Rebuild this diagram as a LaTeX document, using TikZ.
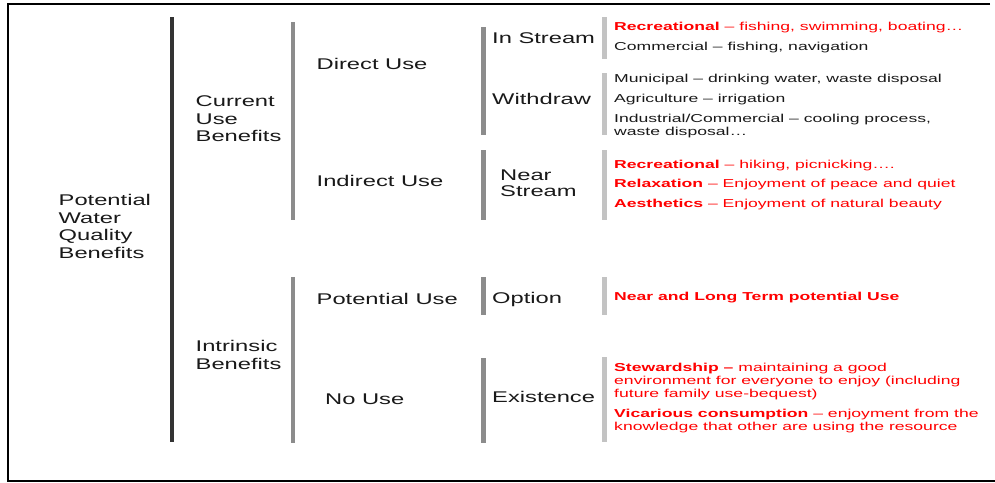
\documentclass[tikz,border=0pt]{standalone}
\usepackage{fontspec}
\setmainfont{Liberation Sans}[FakeStretch=1.53]
\definecolor{txtred}{RGB}{255,0,0}
\definecolor{txtblack}{RGB}{25,25,25}
\definecolor{barA}{RGB}{51,51,51}
\definecolor{barB}{RGB}{140,140,140}
\definecolor{barC}{RGB}{195,195,195}
\newcommand{\stk}[1]{\begin{tabular}[t]{@{}l@{}}#1\end{tabular}}
\begin{document}
\begin{tikzpicture}[x=1pt,y=-1pt,
  big/.style={anchor=base west, inner sep=0pt, font=\fontsize{15.5}{17.5}\selectfont, text=txtblack},
  bigtight/.style={big, font=\fontsize{15.5}{16.7}\selectfont},
  small/.style={anchor=base west, inner sep=0pt, font=\fontsize{11.5}{13}\selectfont, text=txtblack},
  redsmall/.style={small, text=txtred},
  barone/.style={line width=4pt, draw=barA},
  bartwo/.style={line width=4.5pt, draw=barB},
  barthree/.style={line width=5pt, draw=barB},
  barfour/.style={line width=5pt, draw=barC},
  frameline/.style={line width=2pt, draw=black}]
\useasboundingbox (0,0) rectangle (995,482);
% frame
\draw[frameline] (990,4.3) -- (8.3,4.3) -- (8.3,481) -- (995,481);
% bars
\draw[barone] (172,17) -- (172,442);
\draw[bartwo] (293,22) -- (293,220);
\draw[bartwo] (293,277) -- (293,443);
\draw[barthree] (483,27) -- (483,135);
\draw[barthree] (483,150) -- (483,220);
\draw[barthree] (483,277) -- (483,315);
\draw[barthree] (483,358) -- (483,443);
\draw[barfour] (604.2,17) -- (604.2,59);
\draw[barfour] (604.2,73) -- (604.2,135);
\draw[barfour] (604.2,150) -- (604.2,220);
\draw[barfour] (604.2,277) -- (604.2,315);
\draw[barfour] (604.2,357) -- (604.2,442);
% level 0
\node[big] (pwqb) at (58.5,205.5) {\stk{Potential\\Water\\Quality\\Benefits}};
% level 1
\node[big] (cub) at (195.5,106.7) {\stk{Current\\Use\\Benefits}};
\node[big] (ib) at (195.5,351.7) {\stk{Intrinsic\\Benefits}};
% level 2
\node[big] (du) at (316.5,69) {Direct Use};
\node[big] (iu) at (316.5,186) {Indirect Use};
\node[big] (pu) at (316.5,304.3) {Potential Use};
\node[big] (nu) at (325,404.3) {No Use};
% level 3
\node[big] (ins) at (492,43.3) {In Stream};
\node[big] (wd) at (492,104) {Withdraw};
\node[bigtight] (ns) at (500,180) {\stk{Near\\Stream}};
\node[big] (op) at (492,303) {Option};
\node[big] (ex) at (492,402.7) {Existence};
% level 4
\node[redsmall] (r1) at (614,30) {\textbf{Recreational} – fishing, swimming, boating…};
\node[small] (r2) at (614,50) {Commercial – fishing, navigation};
\node[small] (r3) at (614,82) {Municipal – drinking water, waste disposal};
\node[small] (r4) at (614,102) {Agriculture – irrigation};
\node[small] (r5) at (614,122) {\stk{Industrial/Commercial – cooling process,\\waste disposal…}};
\node[redsmall] (r6) at (614,168) {\textbf{Recreational} – hiking, picnicking….};
\node[redsmall] (r7) at (614,187.5) {\textbf{Relaxation} – Enjoyment of peace and quiet};
\node[redsmall] (r8) at (614,207) {\textbf{Aesthetics} – Enjoyment of natural beauty};
\node[redsmall] (r9) at (614,300) {\textbf{Near and Long Term potential Use}};
\node[redsmall] (r10) at (614,371) {\stk{\textbf{Stewardship –} maintaining a good\\environment for everyone to enjoy (including\\future family use-bequest)}};
\node[redsmall] (r11) at (614,417) {\stk{\textbf{Vicarious consumption} – enjoyment from the\\knowledge that other are using the resource}};
\end{tikzpicture}
\end{document}
